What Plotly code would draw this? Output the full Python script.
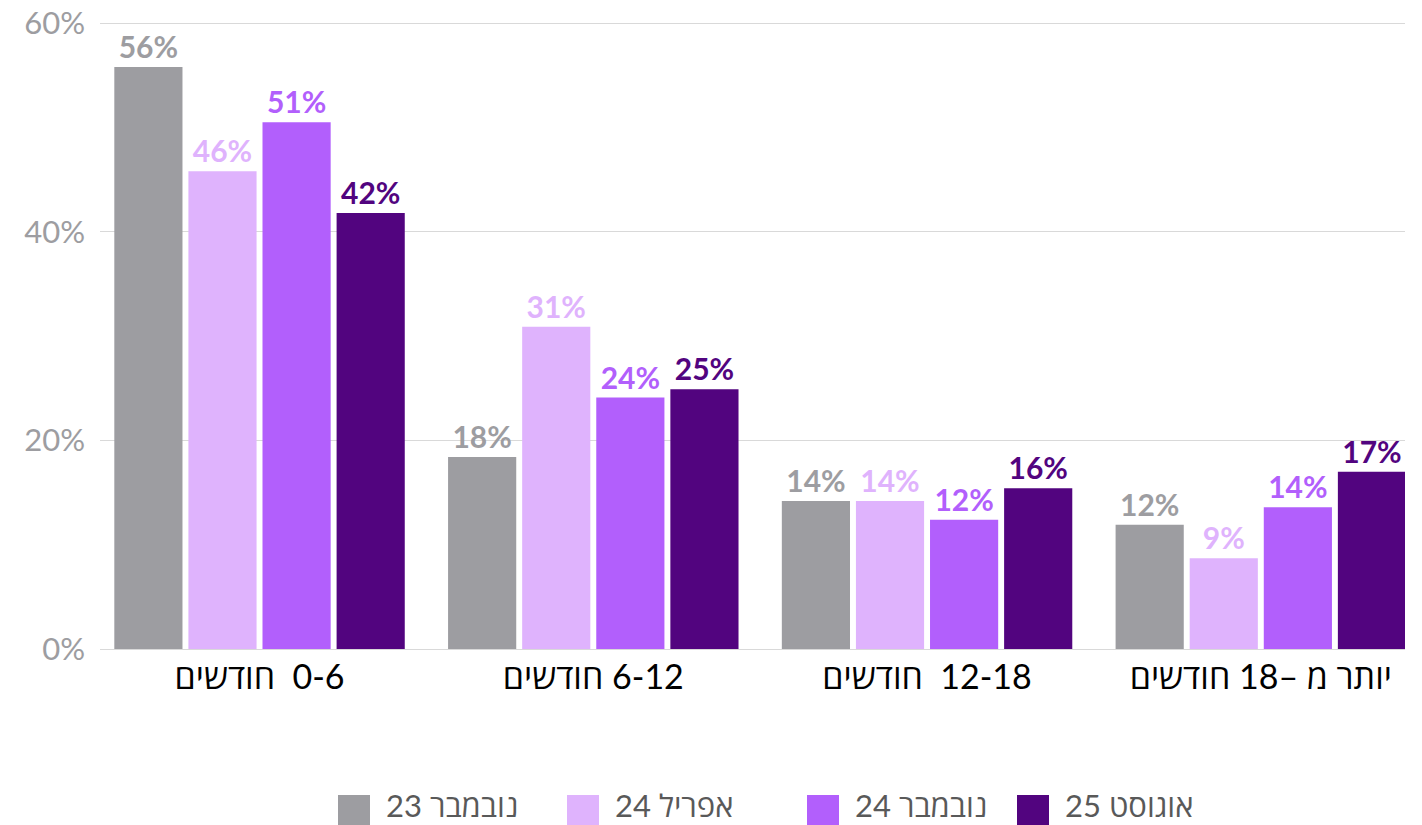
import plotly.graph_objects as go

# categories (RLM prefix keeps the Hebrew word on the left as in the original)
categories = ["\u200f0-6  חודשים", "\u200f6-12 חודשים", "\u200f12-18  חודשים", "\u200fיותר מ –18 חודשים"]

series_names = ["נובמבר 23", "אפריל 24", "נובמבר 24", "אוגוסט 25"]
series_colors = ["#9d9da1", "#dfb3fd", "#b25ffc", "#52047f"]

nov23 = [55.8, 18.4, 14.2, 11.9]
apr24 = [45.8, 30.9, 14.2, 8.7]
nov24 = [50.5, 24.1, 12.4, 13.6]
aug25 = [41.8, 24.9, 15.4, 17.0]

nov23_labels = [56, 18, 14, 12]
apr24_labels = [46, 31, 14, 9]
nov24_labels = [51, 24, 12, 14]
aug25_labels = [42, 25, 16, 17]

y_ticks = [0, 20, 40, 60]
y_ticktext = ["0%", "20%", "40%", "60%"]

# page body has an 8px margin, so the figure is drawn 8px smaller
OFF = 8
W, H = 1422 - OFF, 825 - OFF
ML, MR, MT, MB = 100 - OFF, 17, 20 - OFF, 176
FONT = "Lato, 'Open Sans', 'DejaVu Sans', sans-serif"


def px_x(x):
    return (x - OFF - ML) / (W - ML - MR)


def px_y(y):
    return (H - MB - (y - OFF)) / (H - MT - MB)


fig = go.Figure()
all_values = [nov23, apr24, nov24, aug25]
all_labels = [nov23_labels, apr24_labels, nov24_labels, aug25_labels]
for name, color, vals, labs in zip(series_names, series_colors, all_values, all_labels):
    fig.add_trace(go.Bar(
        x=categories, y=vals, name=name,
        marker=dict(color=color, line=dict(width=0)),
        text=[f"{v}%" for v in labs],
        textposition="outside",
        constraintext="none",
        cliponaxis=False,
        textfont=dict(family=FONT, size=30, color=color, weight="bold"),
        showlegend=False,
        hoverinfo="skip",
    ))

# hand-made legend with big square swatches
legend_x = [338, 567, 807, 1017]
shapes = []
annotations = []
for lx, name, color in zip(legend_x, series_names, series_colors):
    shapes.append(dict(type="rect", xref="paper", yref="paper",
                       x0=px_x(lx), x1=px_x(lx + 32), y0=px_y(825), y1=px_y(795),
                       fillcolor=color, line=dict(width=0)))
    annotations.append(dict(xref="paper", yref="paper", x=px_x(lx + 46), y=px_y(805),
                            xanchor="left", yanchor="middle", showarrow=False,
                            text=name, font=dict(family=FONT, size=31, color="#595959")))

fig.update_layout(
    width=W, height=H,
    margin=dict(l=ML, r=MR, t=MT, b=MB),
    paper_bgcolor="white", plot_bgcolor="white",
    barmode="group", bargap=0.112, bargroupgap=0.08,
    shapes=shapes, annotations=annotations,
    showlegend=False,
)
fig.update_xaxes(range=[-0.478, 3.432], showgrid=False, showline=False, ticks="",
                 automargin=False, ticklabelstandoff=5,
                 tickfont=dict(family=FONT, size=34, color="#000000"))
fig.update_yaxes(range=[0, 60.3], tickvals=y_ticks, ticktext=y_ticktext,
                 showgrid=True, gridcolor="#d9d9d9", gridwidth=1,
                 zeroline=True, zerolinecolor="#d9d9d9", zerolinewidth=1,
                 ticks="", ticklabelstandoff=14, automargin=False,
                 ticklabeloverflow="allow",
                 tickfont=dict(family=FONT, size=31, color="#9d9da1"))

fig.write_html("out.html")
